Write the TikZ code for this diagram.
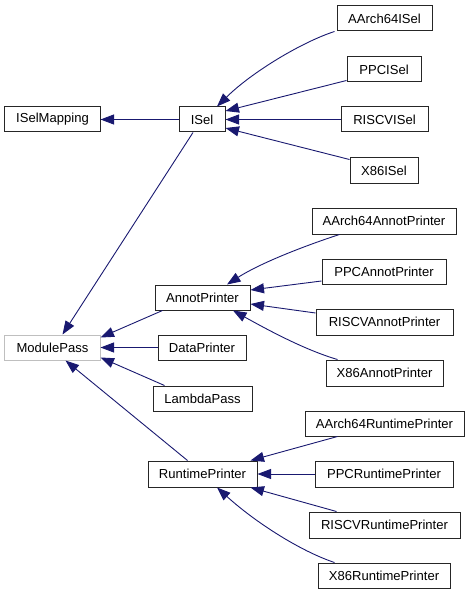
\documentclass[tikz,border=0pt]{standalone}
\usepackage{fontspec}
\setmainfont{Liberation Sans}
\usetikzlibrary{arrows.meta}
\definecolor{edgeblue}{RGB}{25,25,112}
\definecolor{graybox}{RGB}{191,191,191}
\begin{document}
\begin{tikzpicture}[x=1bp,y=-1bp,
  box/.style={draw=black!85,line width=1bp,fill=white,inner sep=0pt,minimum height=25bp,font=\fontsize{13.1}{14}\selectfont},
  graynode/.style={box,draw=graybox},
  inh/.style={draw=edgeblue,line width=0.9bp,{Triangle[length=13.5bp,width=10bp]}-}]
\useasboundingbox (0,0) rectangle (469,595);
% nodes
\node[box,minimum width=95bp] (aisel) at (384.5,18.5) {AArch64ISel};
\node[box,minimum width=74bp] (pisel) at (384,69.5) {PPCISel};
\node[box,minimum width=87bp] (risel) at (384.5,119.5) {RISCVISel};
\node[box,minimum width=68bp] (xisel) at (384,170.5) {X86ISel};
\node[box,minimum width=95bp] (iselmap) at (52.5,119.5) {ISelMapping};
\node[box,minimum width=46bp] (isel) at (202,119.5) {ISel};
\node[box,minimum width=144bp,minimum height=26bp] (aap) at (384,221) {AArch64AnnotPrinter};
\node[box,minimum width=124bp] (pap) at (384,271.5) {PPCAnnotPrinter};
\node[box,minimum width=95bp] (ap) at (202.5,297.5) {AnnotPrinter};
\node[box,minimum width=137bp,minimum height=26bp] (rap) at (384.5,322) {RISCVAnnotPrinter};
\node[graynode,minimum width=95bp] (mp) at (52.5,347.5) {ModulePass};
\node[box,minimum width=88bp] (dp) at (202,347.5) {DataPrinter};
\node[box,minimum width=117bp,minimum height=26bp] (xap) at (384.5,373) {X86AnnotPrinter};
\node[box,minimum width=99bp] (lp) at (202.5,398.5) {LambdaPass};
\node[box,minimum width=159bp] (arp) at (384.5,423.5) {AArch64RuntimePrinter};
\node[box,minimum width=109bp,minimum height=26bp] (rp) at (202.5,474) {RuntimePrinter};
\node[box,minimum width=138bp,minimum height=26bp] (prp) at (384,474) {PPCRuntimePrinter};
\node[box,minimum width=151bp,minimum height=26bp] (rrp) at (384.5,525) {RISCVRuntimePrinter};
\node[box,minimum width=132bp] (xrp) at (384,575.5) {X86RuntimePrinter};
% edges (arrow at base class)
\draw[inh] (iselmap.east) -- (isel.west);
\draw[inh] ([xshift=15bp]isel.north) .. controls (252,72) and (302,42) .. ([xshift=-2bp]aisel.south west);
\draw[inh] ([yshift=8.5bp]isel.east) -- ([yshift=2bp]pisel.south west);
\draw[inh] (isel.east) -- (risel.west);
\draw[inh] ([yshift=-8.5bp]isel.east) -- ([yshift=-2bp]xisel.north west);
\draw[inh] ([xshift=10bp]mp.north) -- ([xshift=-9bp]isel.south);
\draw[inh] ([yshift=10bp]mp.east) -- ([xshift=8bp]ap.south west);
\draw[inh] (mp.east) -- (dp.west);
\draw[inh] ([yshift=-10bp]mp.east) -- ([xshift=12bp]lp.north west);
\draw[inh] ([xshift=13bp]mp.south) -- ([xshift=-15bp]rp.north);
\draw[inh] ([xshift=24.5bp]ap.north) .. controls (262,262) and (310,244) .. ([xshift=28bp]aap.south west);
\draw[inh] ([yshift=7.5bp]ap.east) -- ([yshift=-9.5bp]pap.west);
\draw[inh] ([yshift=-6.5bp]ap.east) -- ([yshift=9bp]rap.west);
\draw[inh] ([xshift=30.5bp]ap.south) .. controls (268,330) and (305,350) .. ([xshift=12bp]xap.north west);
\draw[inh] ([xshift=-7bp]rp.north east) -- ([xshift=33bp]arp.south west);
\draw[inh] (rp.east) -- (prp.west);
\draw[inh] ([xshift=-7bp]rp.south east) -- ([xshift=28bp]rrp.north west);
\draw[inh] ([xshift=14.5bp]rp.south) .. controls (255,522) and (300,551) .. ([xshift=17bp]xrp.north west);
\end{tikzpicture}
\end{document}
